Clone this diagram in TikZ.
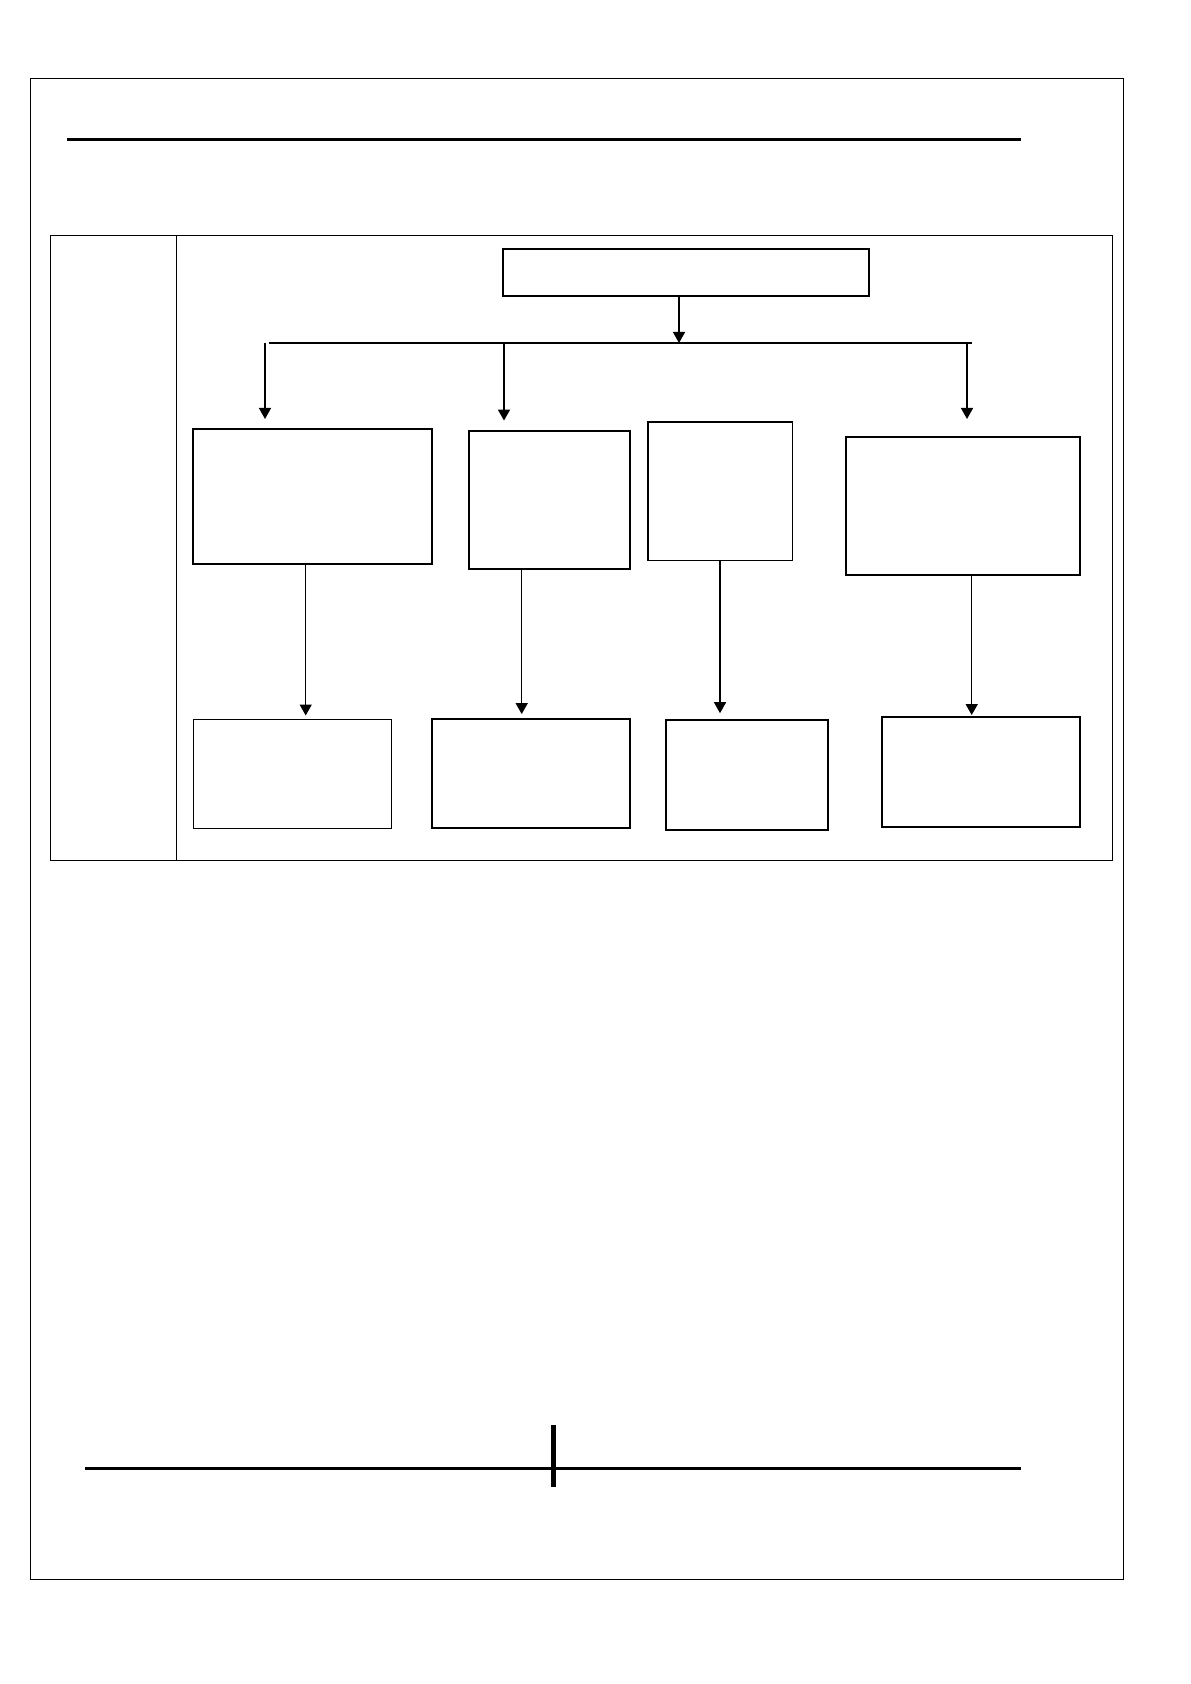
\documentclass[tikz,border=0pt]{standalone}
\usetikzlibrary{arrows.meta}
\begin{document}
\begin{tikzpicture}[x=.5pt,y=-.5pt,
  kotak/.style={draw, line width=1pt, inner sep=0pt},
  tipis/.style={kotak, line width=.6pt},
  pil/.style={line width=.75pt, -{Triangle[width=6pt,length=5.5pt]}}]
\useasboundingbox (0,0) rectangle (1190,1684);
% page frame and rules
\draw[line width=.7pt] (30.3,78.7) rectangle (1123.4,1579.3);
\draw[line width=1.5pt] (67,140)--(1021,140);
\draw[line width=1.5pt] (85,1468.3)--(1021,1468.3);
\draw[line width=2.7pt] (553.4,1425)--(553.4,1486.7);
\draw[line width=.7pt] (50.3,235.3) rectangle (1112.3,860.3);
\draw[line width=.7pt] (176.5,235.3)--(176.5,860.3);
% boxes
\node[kotak, line width=.85pt, minimum width=183pt, minimum height=23.5pt] (atas) at (686.3,272.8) {};
\node[kotak, minimum width=119.8pt, minimum height=67.5pt] (s1) at (312.5,496.2) {};
\node[kotak, minimum width=80.6pt, minimum height=69.2pt] (s2) at (549.3,499.8) {};
\node[kotak, line width=.8pt, minimum width=72.3pt, minimum height=69pt] (s3) at (720,491.3) {};
\node[kotak, minimum width=117.2pt, minimum height=69pt] (s4) at (962.8,505.7) {};
\node[tipis, minimum width=99.2pt, minimum height=54.5pt] (b1) at (292.5,773.8) {};
\node[kotak, minimum width=99.3pt, minimum height=54.5pt] (b2) at (531,773.2) {};
\node[kotak, minimum width=81.3pt, minimum height=54.8pt] (b3) at (747,775.2) {};
\node[kotak, line width=.85pt, minimum width=99.3pt, minimum height=54.7pt] (b4) at (981,772) {};
% connectors
\coordinate (pusat) at (679,343);
\coordinate (barki) at (269,343);
\coordinate (barka) at (972.3,343);
\draw[line width=.85pt] (barki)--(barka);
\draw[pil] (atas.south -| pusat)--(pusat);
\foreach \n/\x/\g in {1/265/4.35, 2/504/4.5, 4/967/8.35}{
  \coordinate (cab\n) at (\x,343);
  \draw[pil, shorten >=\g pt] (cab\n)--(cab\n |- s\n.north);
}
\foreach \n/\x/\g in {1/305.7/1.6, 2/521.7/1.8, 3/720/3.1, 4/971.7/.7}{
  \coordinate (x\n) at (\x,0);
  \draw[pil, shorten >=\g pt] (x\n |- s\n.south)--(x\n |- b\n.north);
}
\end{tikzpicture}
\end{document}
